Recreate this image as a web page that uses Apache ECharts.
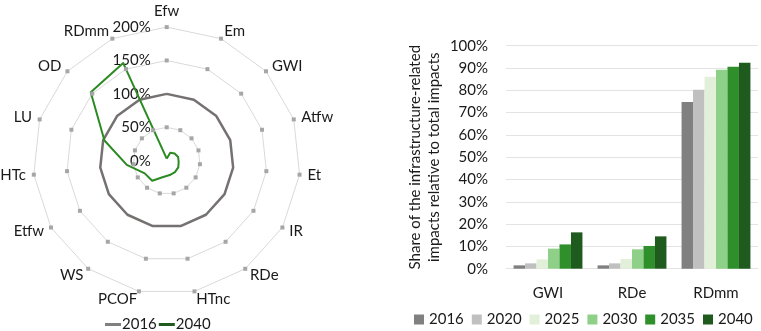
<!DOCTYPE html>
<html>
<head>
<meta charset="utf-8">
<script src="https://cdn.jsdelivr.net/npm/echarts@6/dist/echarts.min.js"></script>
<style>
  html, body { margin: 0; padding: 0; background: #fff; }
  #chart { width: 761px; height: 331px; }
</style>
</head>
<body>
<div id="chart"></div>
<script>
// radar: impact categories, clockwise from the top
var impactNames = ['Efw', 'Em', 'GWI', 'Atfw', 'Et', 'IR', 'RDe', 'HTnc', 'PCOF', 'WS', 'Etfw', 'HTc', 'LU', 'OD', 'RDmm'];
var values2016 = [1, 1, 1, 1, 1, 1, 1, 1, 1, 1, 1, 1, 1, 1, 1];
var values2040 = [0.03, 0.13, 0.16, 0.18, 0.18, 0.20, 0.21, 0.22, 0.25, 0.37, 0.38, 0.60, 0.98, 1.53, 1.60];
var ringLevels = [0.5, 1.5, 2];

// bars: share of infrastructure-related impacts
var barCategories = ['GWI', 'RDe', 'RDmm'];
var barYears = ['2016', '2020', '2025', '2030', '2035', '2040'];
var share2016 = [0.015, 0.015, 0.747];
var share2020 = [0.024, 0.024, 0.803];
var share2025 = [0.042, 0.043, 0.861];
var share2030 = [0.090, 0.087, 0.892];
var share2035 = [0.109, 0.102, 0.906];
var share2040 = [0.163, 0.145, 0.924];
var barColors = ['#808080', '#c0c0c0', '#e2f0d9', '#8fd088', '#2f8f2b', '#1f5b1f'];

var FONT = 'Lato';
var TEXT = '#1a1a1a';

// echarts places radar indicators counter-clockwise, so flip the order after the first
var order = [0];
for (var i = impactNames.length - 1; i > 0; i--) order.push(i);
function reorder(arr) { return order.map(function (k) { return arr[k]; }); }

var indicators = reorder(impactNames).map(function (n) { return { name: n, min: 0, max: 2 }; });

// gray square markers sitting on the grid rings
var ringSeries = ringLevels.map(function (lv) {
  return {
    value: impactNames.map(function () { return lv; }),
    name: 'ring',
    symbol: 'rect',
    symbolSize: 4,
    itemStyle: { color: '#a6a6a6' },
    lineStyle: { width: 0 }
  };
});

var shares = [share2016, share2020, share2025, share2030, share2035, share2040];
var barSeries = barYears.map(function (y, i) {
  return {
    name: y,
    type: 'bar',
    data: shares[i],
    barGap: '0%',
    barCategoryGap: '18%',
    itemStyle: { color: barColors[i] },
    silent: true
  };
});

var chart = echarts.init(document.getElementById('chart'));
chart.setOption({
  animation: false,
  textStyle: { fontFamily: FONT },
  legend: [{
    data: ['2016', '2040'],
    left: 100,
    top: 312,
    icon: 'rect',
    itemWidth: 16,
    itemHeight: 3,
    itemGap: 2,
    textStyle: { fontSize: 15, color: TEXT, fontFamily: FONT, padding: [0, 0, 0, -4] }
  }, {
    data: barYears,
    left: 414,
    top: 312,
    width: 347,
    padding: 0,
    icon: 'rect',
    itemWidth: 10,
    itemHeight: 10,
    itemGap: 8,
    textStyle: { fontSize: 15, color: TEXT, fontFamily: FONT }
  }],
  radar: {
    center: [166.7, 160.7],
    radius: 133.6,
    startAngle: 90,
    shape: 'polygon',
    splitNumber: 4,
    indicator: indicators,
    nameGap: 8,
    axisName: { color: TEXT, fontSize: 15, fontFamily: FONT },
    axisLine: { show: false },
    axisTick: { show: false },
    axisLabel: { show: false },
    splitArea: { show: false },
    splitLine: { lineStyle: { color: '#d9d9d9', width: 1 } }
  },
  polar: { center: [166.7, 160.7], radius: 133.6 },
  angleAxis: {
    type: 'value', startAngle: 90, show: false,
    axisLine: { show: false }, splitLine: { show: false }, axisTick: { show: false }, axisLabel: { show: false }
  },
  radiusAxis: {
    type: 'value', min: 0, max: 2, interval: 0.5,
    axisLine: { show: false }, axisTick: { show: false }, splitLine: { show: false },
    axisLabel: {
      fontSize: 15, color: TEXT, fontFamily: FONT, margin: 16,
      formatter: function (v) { return Math.round(v * 100) + '%'; }
    }
  },
  grid: { left: 506, right: 3, top: 45.7, bottom: 62.3 },
  xAxis: {
    type: 'category',
    data: barCategories,
    axisLine: { show: false },
    axisTick: { show: false },
    axisLabel: { fontSize: 15, color: TEXT, fontFamily: FONT, margin: 17 }
  },
  yAxis: {
    type: 'value', min: 0, max: 1, interval: 0.1,
    name: 'Share of the infrastructure-related\nimpacts relative to total impacts',
    nameLocation: 'middle',
    nameRotate: 90,
    nameGap: 62,
    nameTextStyle: { fontSize: 15, color: TEXT, fontFamily: FONT, lineHeight: 19 },
    axisLine: { show: false },
    axisTick: { show: false },
    splitLine: { lineStyle: { color: '#e3e3e3' } },
    axisLabel: {
      fontSize: 15, color: TEXT, fontFamily: FONT, margin: 18,
      formatter: function (v) { return Math.round(v * 100) + '%'; }
    }
  },
  series: [{
    type: 'radar',
    silent: true,
    data: ringSeries
  }, {
    type: 'radar',
    silent: true,
    symbol: 'none',
    data: [{
      name: '2016',
      value: reorder(values2016),
      itemStyle: { color: '#767171' },
      lineStyle: { color: '#767171', width: 2.5 }
    }, {
      name: '2040',
      value: reorder(values2040),
      itemStyle: { color: '#2b8a22' },
      lineStyle: { color: '#2b8a22', width: 2 }
    }]
  }].concat(barSeries)
});
</script>
</body>
</html>
